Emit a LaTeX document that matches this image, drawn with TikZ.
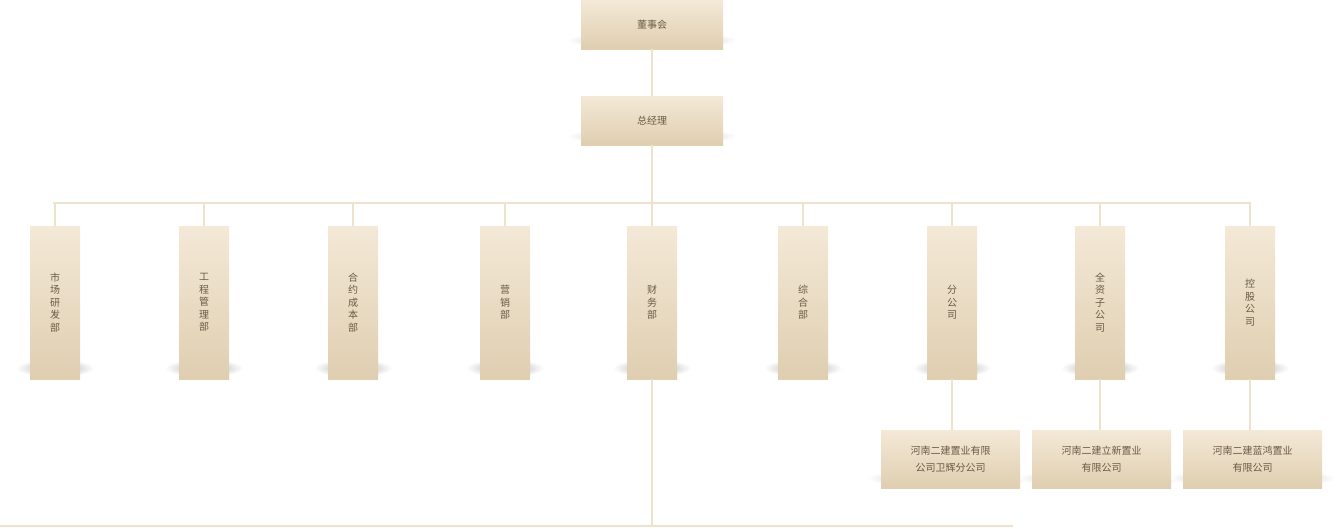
\documentclass[tikz,border=0pt]{standalone}
\usepackage{fontspec}
\setmainfont{Noto Sans CJK SC}
\usetikzlibrary{positioning}
\definecolor{bxtop}{HTML}{F4E9D7}
\definecolor{bxbot}{HTML}{DFCEB0}
\definecolor{txt}{HTML}{6B5A45}
\definecolor{ln}{HTML}{EEE2CF}
\tikzset{
  x=1pt,y=-1pt,
  bx/.style={top color=bxtop,bottom color=bxbot,draw=none,font=\fontsize{10}{13}\selectfont,text=txt,align=center,inner sep=0pt},
  hbox/.style={bx,minimum width=142pt,minimum height=49pt},
  vbox/.style={bx,minimum width=50pt,minimum height=153pt,font=\fontsize{10}{12.5}\selectfont},
  sbox/.style={bx,minimum width=139pt,minimum height=58pt,font=\fontsize{10}{17}\selectfont},
  conn/.style={draw=ln,line width=1.5pt},
  shd/.style={inner color=black!35,outer color=white,draw=none}
}
\newcommand{\shad}[3]{\shade[shd] (#1,#2) ellipse ({#3/2+14} and 9);}
\begin{document}
\begin{tikzpicture}
\useasboundingbox (0,0) rectangle (1344,528);
% shadows
\shad{652}{40}{142}
\shad{652}{136}{142}
\foreach \x in {55,204,353,505,652,803,952,1100,1250}{\shad{\x}{368}{50}}
\foreach \x in {950,1101,1252}{\shad{\x}{478}{139}}
\node[hbox] (ds) at (652,24.5) {董事会};
\node[hbox] (zj) at (652,120.5) {总经理};
\node[vbox] (d1) at (55,302.5) {市\\场\\研\\发\\部};
\node[vbox] (d2) at (204,302.5) {工\\程\\管\\理\\部};
\node[vbox] (d3) at (353,302.5) {合\\约\\成\\本\\部};
\node[vbox] (d4) at (505,302.5) {营\\销\\部};
\node[vbox] (d5) at (652,302.5) {财\\务\\部};
\node[vbox] (d6) at (803,302.5) {综\\合\\部};
\node[vbox] (d7) at (952,302.5) {分\\公\\司};
\node[vbox] (d8) at (1100,302.5) {全\\资\\子\\公\\司};
\node[vbox] (d9) at (1250,302.5) {控\\股\\公\\司};
\node[sbox] (s1) at (950.5,459) {河南二建置业有限\\公司卫辉分公司};
\node[sbox] (s2) at (1101.5,459) {河南二建立新置业\\有限公司};
\node[sbox] (s3) at (1252.5,459) {河南二建蓝鸿置业\\有限公司};
\coordinate (bl) at (0,526);
\coordinate (br) at (1013,526);
\coordinate (hl) at (53,203);
\coordinate (hr) at (1251,203);
\draw[conn] (ds) -- (zj);
\draw[conn] (zj.south) -- (zj.south |- hl);
\draw[conn] (hl) -- (hr);
\foreach \n in {d1,d2,d3,d4,d5,d6,d7,d8,d9}{\draw[conn] (\n.north |- hl) -- (\n.north);}
\draw[conn] (d5.south) -- (d5.south |- bl);
\draw[conn] (d7.south) -- (s1.north -| d7.south);
\draw[conn] (d8.south) -- (s2.north -| d8.south);
\draw[conn] (d9.south) -- (s3.north -| d9.south);
\draw[conn,line width=2pt] (bl) -- (br);
\end{tikzpicture}
\end{document}
